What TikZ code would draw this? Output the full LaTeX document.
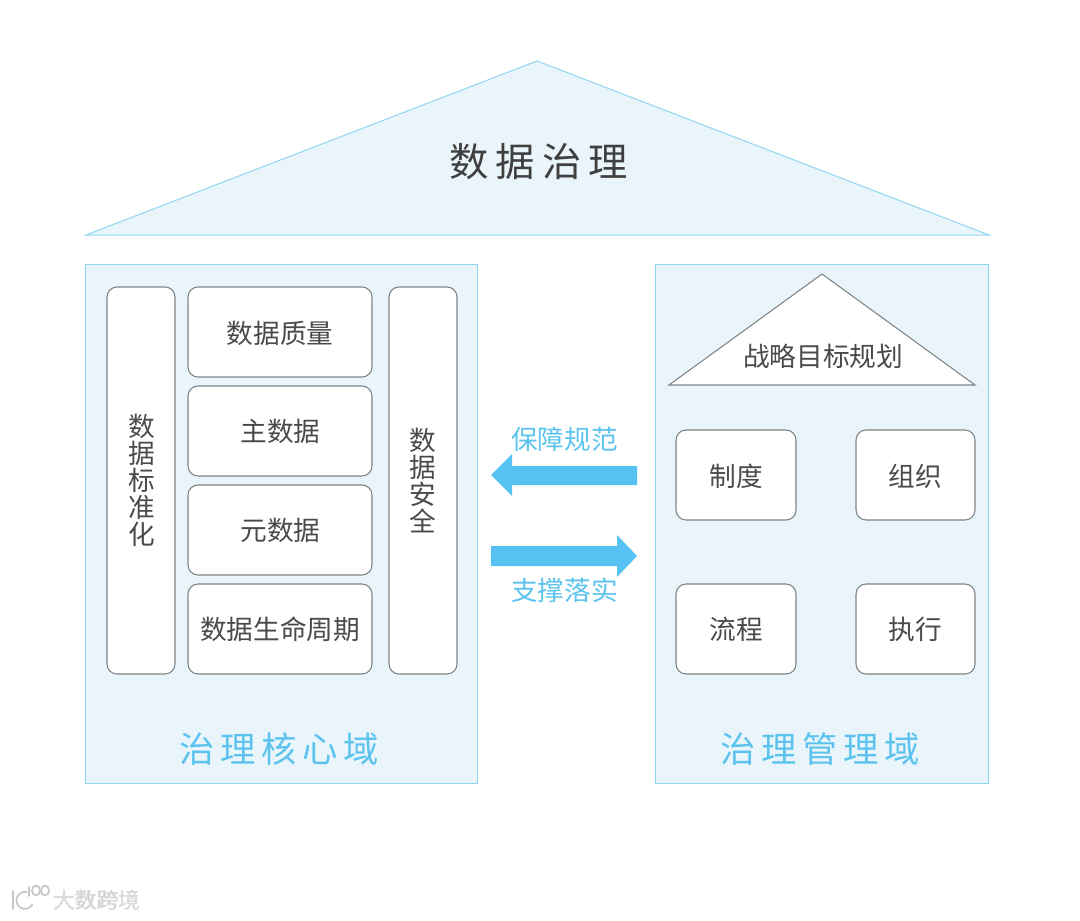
\documentclass[tikz,border=0pt]{standalone}
\usepackage{fontspec}
\setmainfont{Noto Sans CJK SC}
\definecolor{panelfill}{HTML}{E9F5FB}
\definecolor{panelline}{HTML}{8FD6F0}
\definecolor{boxline}{HTML}{7F8487}
\definecolor{darktext}{HTML}{4A4A4A}
\definecolor{bluetext}{HTML}{5CC3EE}
\definecolor{arrowblue}{HTML}{56C2F2}
\definecolor{wm}{HTML}{DADBDC}
\definecolor{wmshade}{HTML}{C4C6C7}
\tikzset{
  x=0.75pt,y=-0.75pt,
  panel/.style={draw=panelline,fill=panelfill,line width=0.75pt},
  boxbg/.style={draw=boxline,fill=white,line width=0.8pt,rounded corners=7.5pt},
  lab/.style={text=darktext,font=\fontsize{20}{20}\selectfont,inner sep=0pt},
  vlab/.style={lab,align=center,font=\fontsize{20}{20.25}\selectfont},
  bluelab/.style={text=bluetext,font=\fontsize{20}{20}\selectfont,inner sep=0pt},
  domlab/.style={text=bluetext,font=\fontsize{26.5}{27}\selectfont\addfontfeature{LetterSpace=16},inner sep=0pt},
  bigarrow/.style={fill=arrowblue,draw=none},
  wmlab/.style={text=wm,font=\fontsize{16.3}{17}\selectfont,inner sep=0pt},
  wmline/.style={draw=wmshade,line width=1.3pt,line cap=round},
}
\newcommand{\roundbox}[5]{\path[boxbg] (#2,#3) rectangle (#4,#5); \coordinate (#1) at ({(#2+#4)/2},{(#3+#5)/2});}
\begin{document}
\begin{tikzpicture}
\useasboundingbox (0,0) rectangle (1080,920);
% roof
\path[panel] (537,61) -- (989,235) -- (86,235) -- cycle;
\node[text=darktext!85!black,font=\fontsize{29.5}{30}\selectfont\addfontfeature{LetterSpace=18},inner sep=0pt] (roof) at (538.5,162) {数据治理};
% panels
\path[panel] (85.5,264.5) rectangle (477.5,783);
\path[panel] (655.5,264.5) rectangle (988.5,783);
% left boxes
\roundbox{stdc}{107}{287}{175}{674}
\roundbox{qc}{188}{287}{372}{377}
\roundbox{mc}{188}{386}{372}{476}
\roundbox{mdc}{188}{485}{372}{575}
\roundbox{lc}{188}{584}{372}{674}
\roundbox{secc}{389}{287}{457}{674}
\node[vlab] (std) at (142,480) {数\\据\\标\\准\\化};
\node[lab] (q) at (280,333) {数据质量};
\node[lab] (m) at (280.5,431) {主数据};
\node[lab] (md) at (280.5,530) {元数据};
\node[lab] (l) at (280,629) {数据生命周期};
\node[vlab] (sec) at (423,480) {数\\据\\安\\全};
\node[domlab] (core) at (279.5,749) {治理核心域};
% arrows
\path[bigarrow] (637,466) -- (512,466) -- (512,454) -- (491,475) -- (512,496) -- (512,485) -- (637,485) -- cycle;
\path[bigarrow] (491,546) -- (617,546) -- (617,535) -- (637,556) -- (617,577) -- (617,566) -- (491,566) -- cycle;
\node[bluelab] (a1) at (564.5,439) {保障规范};
\node[bluelab] (a2) at (564.5,590) {支撑落实};
% right panel
\path[draw=boxline,fill=white,line width=0.8pt] (822,274) -- (975,385) -- (669,385) -- cycle;
\node[lab] (goal) at (823,356) {战略目标规划};
\roundbox{zc}{676}{430}{796}{520}
\roundbox{oc}{856}{430}{975}{520}
\roundbox{pc}{676}{584}{796}{674}
\roundbox{ec}{856}{584}{975}{674}
\node[lab] (z) at (736,476) {制度};
\node[lab] (o) at (915,476) {组织};
\node[lab] (p) at (736,629) {流程};
\node[lab] (e) at (915,629) {执行};
\node[domlab] (mgmt) at (820.5,749) {治理管理域};
% watermark
\node[text=wmshade,font=\fontsize{16.3}{17}\selectfont,inner sep=0pt] (wmshadow) at (97,900.7) {大数跨境};
\node[wmlab] (wm) at (96.5,900) {大数跨境};
\draw[wmline] (13,891) -- (13,909);
\draw[wmline] (26.4,892) arc (-80:-330:8.5);
\draw[wmline] (29,887) -- (29,896);
\draw[wmline] (36,890.5) ellipse (4 and 5);
\draw[wmline] (45,890.5) ellipse (4 and 5);
\end{tikzpicture}
\end{document}
